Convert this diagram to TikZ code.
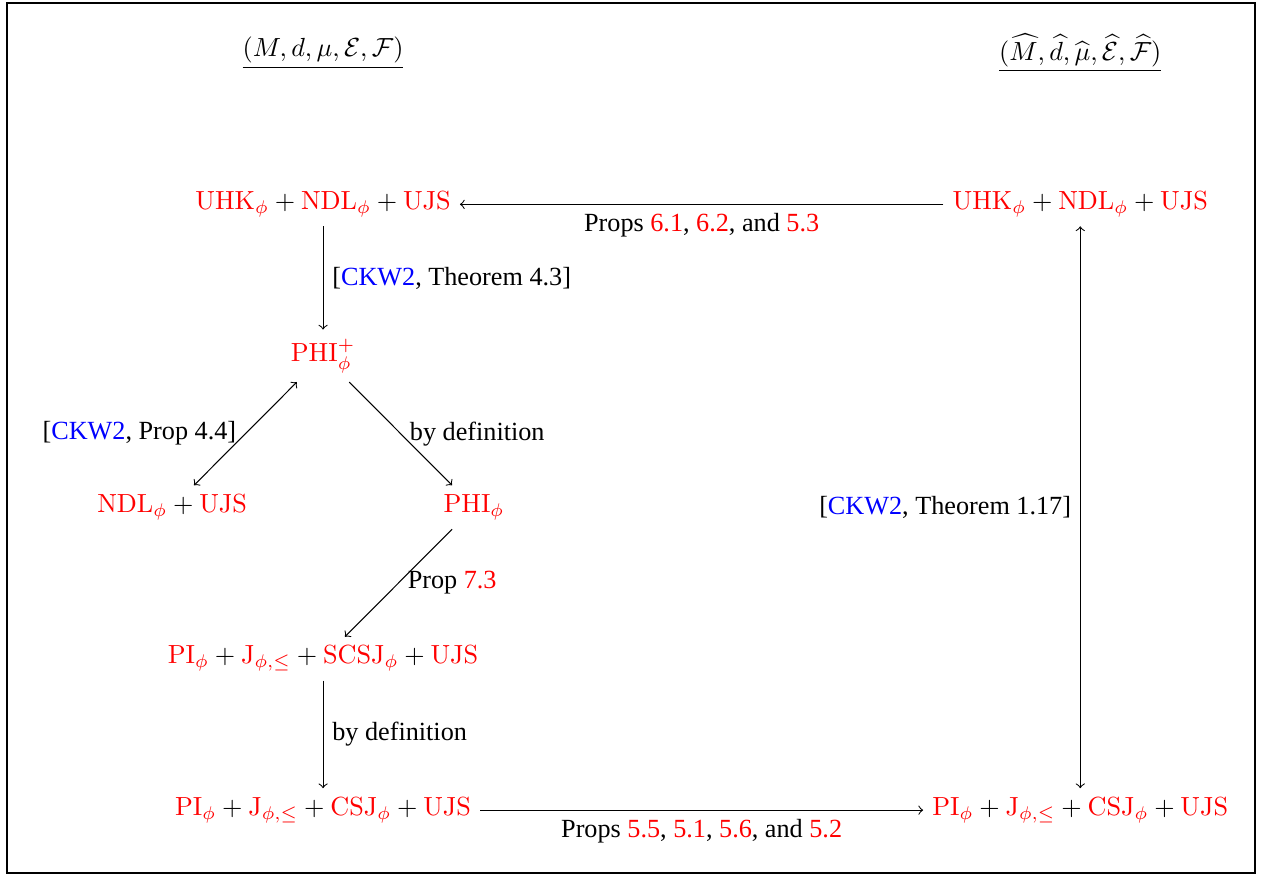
\documentclass[tikz,border=0pt]{standalone}
\usepackage[no-math]{fontspec}
\setmainfont{Liberation Serif}
\usepackage{tikz}
\usetikzlibrary{positioning}

\begin{document}
\begin{tikzpicture}[node distance=57.8pt and 57.6pt, on grid, arrow/.style={->}, darrow/.style={<->}] %node distance: vertical first, then horizontal

%frame
\useasboundingbox (-123.3pt,20.2pt) rectangle (359.5pt,-314.2pt);
\draw[line width=0.7pt] (-120.6pt,19pt) rectangle (355.7pt,-313pt);

%spaces
\node (space) {$\underline{(M,d,\mu,\mathcal{E},\mathcal{F})}$};

%left column
\node (uhk) [below=of space] {$\textcolor{red}{\mathrm{UHK}_\phi}+\textcolor{red}{\mathrm{NDL}_\phi}+\textcolor{red}{\mathrm{UJS}}$};
\node (phiplus) [below=of uhk] {$\textcolor{red}{\mathrm{PHI}^+_\phi}$};
\node (ndl) [below left=of phiplus] {$\textcolor{red}{\mathrm{NDL}_\phi}+\textcolor{red}{\mathrm{UJS}}$};
\node (phi) [below right=of phiplus] {$\textcolor{red}{\mathrm{PHI}_\phi}$};
\node (piscsj) [below left=of phi] {$\textcolor{red}{\mathrm{PI}_\phi}+\textcolor{red}{\mathrm{J}_{\phi,\leq}}+\textcolor{red}{\mathrm{SCSJ}_\phi}+\textcolor{red}{\mathrm{UJS}}$};
\node (picsj) [below=of piscsj] {$\textcolor{red}{\mathrm{PI}_\phi}+\textcolor{red}{\mathrm{J}_{\phi,\leq}}+\textcolor{red}{\mathrm{CSJ}_\phi}+\textcolor{red}{\mathrm{UJS}}$};

%right column
\node (uhkhat) [right=289pt of uhk] {$\textcolor{red}{\mathrm{UHK}_\phi}+\textcolor{red}{\mathrm{NDL}_\phi}+\textcolor{red}{\mathrm{UJS}}$};
\node (spacehat) [above=of uhkhat] {$\underline{(\widehat{M},\widehat{d},\widehat{\mu},\widehat{\mathcal{E}},\widehat{\mathcal{F}})}$};
\node (picsjhat) [right=289pt of picsj] {$\textcolor{red}{\mathrm{PI}_\phi}+\textcolor{red}{\mathrm{J}_{\phi,\leq}}+\textcolor{red}{\mathrm{CSJ}_\phi}+\textcolor{red}{\mathrm{UJS}}$};

%arrows in the left column
\draw[arrow] (uhk) -- node[right] {[\textcolor{blue}{CKW2}, Theorem 4.3]} (phiplus);
\draw[darrow] (phiplus) -- node[left] {[\textcolor{blue}{CKW2}, Prop 4.4]} (ndl);
\draw[arrow] (phiplus) -- node[right] {by definition} (phi);
\draw[arrow] (phi) -- node[right] {Prop \textcolor{red}{7.3}} (piscsj);
\draw[arrow] (piscsj) -- node[right] {by definition} (picsj);

%arrows between the columns
\draw[arrow] (uhkhat) -- node[below] {Props \textcolor{red}{6.1}, \textcolor{red}{6.2}, and \textcolor{red}{5.3}} (uhk);
\draw[arrow] (picsj) -- node[below] {Props \textcolor{red}{5.5}, \textcolor{red}{5.1}, \textcolor{red}{5.6}, and \textcolor{red}{5.2}} (picsjhat);
\draw[darrow] (uhkhat) -- node[left] {[\textcolor{blue}{CKW2}, Theorem 1.17]} (picsjhat);

\end{tikzpicture}
\end{document}
